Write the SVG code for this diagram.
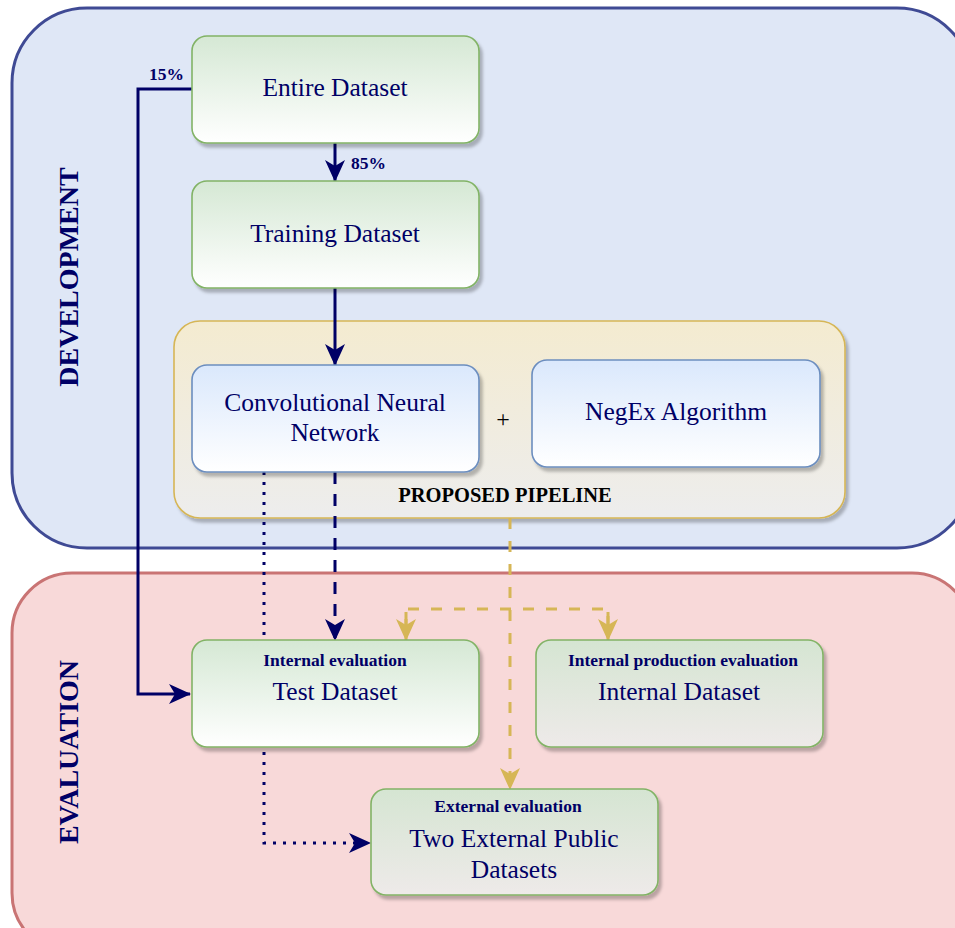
<svg xmlns="http://www.w3.org/2000/svg" width="955" height="928" viewBox="0 0 955 928">
<style>
.t{font-family:"Liberation Serif","Times New Roman",serif;fill:#000066;text-anchor:middle}
.big{font-size:25.5px}
.sm{font-size:17.5px;font-weight:bold}
.lbl{font-family:"Liberation Serif","Times New Roman",serif;font-weight:bold;font-size:17.5px;fill:#000066}
.node{stroke-width:1.6}
.green{stroke:#82b366}
.blue{stroke:#6c8ebf}
.c{fill:none;stroke-width:3}
.navy{stroke:#000066}
.gold{stroke:#d6b656}
</style>
<defs>
<linearGradient id="gGreen" x1="0" y1="0" x2="0" y2="1"><stop offset="0" stop-color="#d5e8d4"/><stop offset="1" stop-color="#ffffff"/></linearGradient>
<linearGradient id="gGray" x1="0" y1="0" x2="0" y2="1"><stop offset="0" stop-color="#d5e5d2"/><stop offset="1" stop-color="#eeeae9"/></linearGradient>
<linearGradient id="gBlue" x1="0" y1="0" x2="0" y2="1"><stop offset="0" stop-color="#dae8fc"/><stop offset="1" stop-color="#ffffff"/></linearGradient>
<linearGradient id="gPipe" x1="0" y1="0" x2="0" y2="1"><stop offset="0" stop-color="#f4ebd0"/><stop offset="1" stop-color="#ededed"/></linearGradient>
<filter id="sh" x="-10%" y="-10%" width="130%" height="130%"><feDropShadow dx="3" dy="4" stdDeviation="1.5" flood-color="#000" flood-opacity="0.25"/></filter>
<marker id="aN" viewBox="0 0 22 20" markerWidth="22" markerHeight="20" refX="21" refY="10" orient="auto" markerUnits="userSpaceOnUse"><path d="M0,0 L22,10 L0,20 L6,10 Z" fill="#000066"/></marker>
<marker id="aG" viewBox="0 0 22 20" markerWidth="22" markerHeight="20" refX="21" refY="10" orient="auto" markerUnits="userSpaceOnUse"><path d="M0,0 L22,10 L0,20 L6,10 Z" fill="#d6b656"/></marker>
</defs>

<g id="development">
<rect x="12" y="8" width="960" height="540" rx="75" fill="#dfe7f6" stroke="#3f4a94" stroke-width="3"/>
<text class="t" font-weight="bold" font-size="28" transform="translate(78,277) rotate(-90)">DEVELOPMENT</text>
</g>
<g id="evaluation">
<rect x="12" y="573" width="960" height="380" rx="60" fill="#f8d9d9" stroke="#c97474" stroke-width="3"/>
<text class="t" font-weight="bold" font-size="28" transform="translate(78,752) rotate(-90)">EVALUATION</text>
</g>

<g id="pipeline">
<rect x="174" y="321" width="671" height="197" rx="26" fill="url(#gPipe)" stroke="#d6b656" stroke-width="1.6" filter="url(#sh)"/>
<text class="t" x="505" y="502" font-weight="bold" font-size="20.5" style="fill:#000">PROPOSED PIPELINE</text>
<text class="t" x="503" y="427" font-size="24" style="fill:#000">+</text>
</g>

<g id="connectors">
<path class="c navy" d="M192,89 H138 V694 H190" marker-end="url(#aN)"/>
<path class="c navy" d="M335,143 V181" marker-end="url(#aN)"/>
<path class="c navy" d="M335,288 V365" marker-end="url(#aN)"/>
<path class="c navy" d="M335,472 V640" stroke-dasharray="12 10" marker-end="url(#aN)"/>
<path class="c navy" d="M264,472 V843 H370" stroke-dasharray="3 7" marker-end="url(#aN)"/>
<path class="c gold" d="M510,518 V789" stroke-dasharray="11 12" marker-end="url(#aG)"/>
<path class="c gold" d="M406,630 V609 H608 V630" stroke-dasharray="11 12"/>
<path class="c gold" d="M406,612 V640" marker-end="url(#aG)"/>
<path class="c gold" d="M608,612 V640" marker-end="url(#aG)"/>
</g>

<g id="entire">
<rect class="node green" x="192" y="36" width="287" height="107" rx="15" fill="url(#gGreen)" filter="url(#sh)"/>
<text class="t big" x="335" y="96">Entire Dataset</text>
</g>
<text class="lbl" x="149" y="80">15%</text>
<text class="lbl" x="351" y="169">85%</text>

<g id="training">
<rect class="node green" x="192" y="181" width="287" height="107" rx="15" fill="url(#gGreen)" filter="url(#sh)"/>
<text class="t big" x="335" y="242">Training Dataset</text>
</g>

<g id="cnn">
<rect class="node blue" x="192" y="365" width="287" height="107" rx="15" fill="url(#gBlue)" filter="url(#sh)"/>
<text class="t big" x="335" y="411">Convolutional Neural</text>
<text class="t big" x="335" y="441">Network</text>
</g>

<g id="negex">
<rect class="node blue" x="532" y="360" width="288" height="107" rx="15" fill="url(#gBlue)" filter="url(#sh)"/>
<text class="t big" x="676" y="420">NegEx Algorithm</text>
</g>

<g id="test">
<rect class="node green" x="192" y="640" width="287" height="107" rx="15" fill="url(#gGreen)" filter="url(#sh)"/>
<text class="t sm" x="335" y="666">Internal evaluation</text>
<text class="t big" x="335" y="700">Test Dataset</text>
</g>

<g id="internal">
<rect class="node green" x="536" y="640" width="287" height="107" rx="15" fill="url(#gGray)" filter="url(#sh)"/>
<text class="t sm" x="683" y="666">Internal production evaluation</text>
<text class="t big" x="679" y="700">Internal Dataset</text>
</g>

<g id="external">
<rect class="node green" x="371" y="789" width="287" height="106" rx="15" fill="url(#gGray)" filter="url(#sh)"/>
<text class="t sm" x="508" y="812">External evaluation</text>
<text class="t big" x="514" y="847">Two External Public</text>
<text class="t big" x="514" y="878">Datasets</text>
</g>
</svg>
